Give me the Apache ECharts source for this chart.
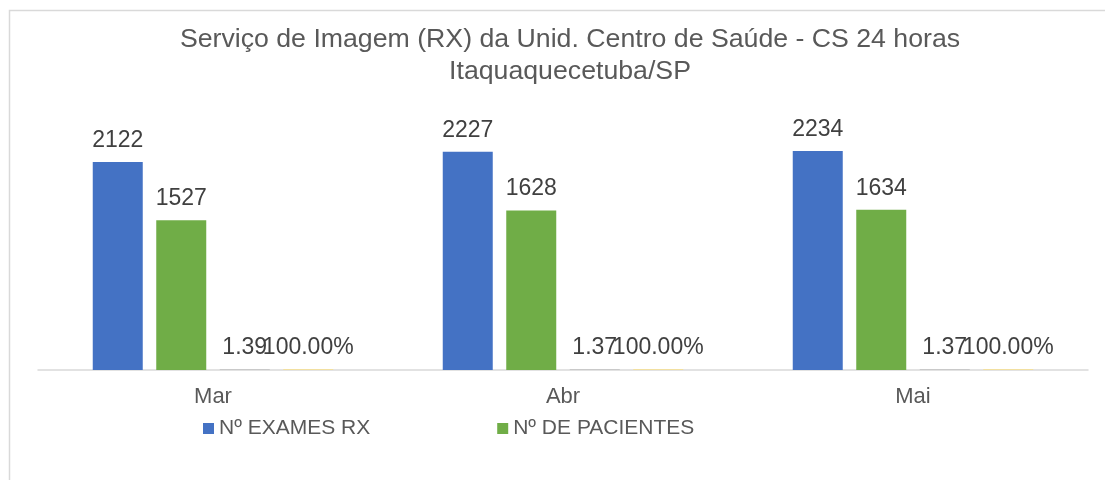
<!DOCTYPE html>
<html>
<head>
<meta charset="utf-8">
<script src="https://cdn.jsdelivr.net/npm/echarts@6/dist/echarts.min.js"></script>
<style>
html,body{margin:0;padding:0;background:#fff;}
#main{width:1105px;height:480px;}
</style>
</head>
<body>
<div id="main"></div>
<script>
const meses = ['Mar', 'Abr', 'Mai']
const examesRx = [2122, 2227, 2234]//Nº EXAMES RX
const pacientes = [1527, 1628, 1634]//Nº DE PACIENTES
const razao = [1.39, 1.37, 1.37]//exames por paciente
const percentual = [1, 1, 1]//100.00%

const txt = '#595959'
let myChart = echarts.init(document.getElementById('main'))
let lbl = {
  show: true,
  position: 'top',
  distance: 10,
  color: '#404040',
  fontFamily: 'Liberation Sans, Arial',
  fontSize: 23
}
myChart.setOption({
  animation: false,
  textStyle: { fontFamily: 'Liberation Sans, Arial' },
  title: {
    text: 'Serviço de Imagem (RX) da Unid. Centro de Saúde - CS 24 horas\nItaquaquecetuba/SP',
    left: 565,
    textAlign: 'center',
    top: 19,
    textStyle: { color: txt, fontSize: 26.7, fontWeight: 'normal', lineHeight: 32, fontFamily: 'Liberation Sans, Arial' }
  },
  graphic: [{
    type: 'rect',
    shape: { x: 9.5, y: 10.5, width: 1110, height: 480 },
    style: { fill: 'none', stroke: '#d9d9d9', lineWidth: 1.5 },
    silent: true
  }],
  legend: {
    data: ['Nº EXAMES RX', 'Nº DE PACIENTES'],
    top: 413,
    left: 198,
    itemWidth: 11,
    itemHeight: 11,
    itemGap: 127,
    icon: 'rect',
    textStyle: { color: txt, fontSize: 21 }
  },
  grid: { left: 38, right: 17, top: 125, bottom: 110 },
  xAxis: {
    type: 'category',
    data: meses,
    axisLine: { lineStyle: { color: '#d9d9d9', width: 1.5 } },
    axisTick: { show: false },
    axisLabel: { color: txt, fontSize: 22, margin: 16 }
  },
  yAxis: {
    type: 'value',
    min: 0,
    max: 2500,
    show: false
  },
  series: [
    { name: 'Nº EXAMES RX', type: 'bar', data: examesRx, itemStyle: { color: '#4472c4' },
      barWidth: 50, barGap: '27%', label: lbl },
    { name: 'Nº DE PACIENTES', type: 'bar', data: pacientes, itemStyle: { color: '#70ad47' },
      barWidth: 50, label: lbl },
    { name: 'razao', type: 'bar', data: razao, itemStyle: { color: '#c9c9c9' },
      barWidth: 50, barMinHeight: 1,
      label: Object.assign({}, lbl, { formatter: p => p.value.toFixed(2) }) },
    { name: 'percentual', type: 'bar', data: percentual, itemStyle: { color: '#f2e0a0' },
      barWidth: 50, barMinHeight: 1,
      label: Object.assign({}, lbl, { formatter: p => (p.value * 100).toFixed(2) + '%' }) }
  ]
})
</script>
</body>
</html>
